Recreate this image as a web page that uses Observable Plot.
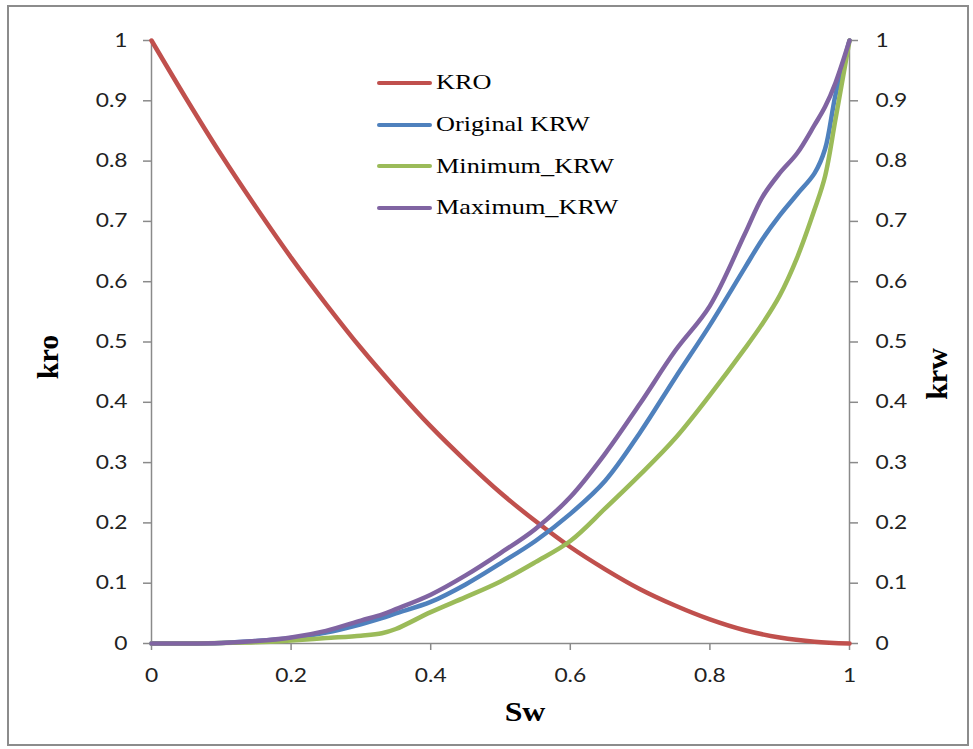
<!DOCTYPE html>
<html>
<head>
<meta charset="utf-8">
<script src="https://cdn.jsdelivr.net/npm/d3@7"></script>
<script src="https://cdn.jsdelivr.net/npm/@observablehq/plot@0.6"></script>
<style>
  body { margin: 0; background: #fff; }
  #wrap { position: relative; width: 973px; height: 749px; overflow: hidden; background: #fff; }
  #border { position: absolute; left: 7px; top: 5px; width: 962px; height: 741px; border: 2px solid #8c8c8c; box-sizing: border-box; pointer-events: none; }
  #chart { position: absolute; left: 0; top: 0; }
  .atitle { position: absolute; font-family: "Liberation Serif", serif; font-weight: bold; color: #000; line-height: 1; white-space: nowrap; }
  #legend { position: absolute; left: 377px; top: 62px; font-family: "Liberation Serif", serif; font-size: 21px; color: #000; }
  .lrow { display: flex; align-items: center; height: 41.7px; }
  .lsw { width: 55px; height: 4px; border-radius: 2px; margin-right: 4px; }
  .ltxt { display: inline-block; transform: scaleX(1.25); transform-origin: left center; white-space: nowrap; }
</style>
</head>
<body>
<div id="wrap">
  <div id="chart"></div>
  <div id="legend"></div>
  <div class="atitle" id="tkro" style="left:48px; top:357px; font-size:30px; transform: translate(-50%,-50%) rotate(-90deg);">kro</div>
  <div class="atitle" id="tkrw" style="left:937px; top:374px; font-size:30px; transform: translate(-50%,-50%) rotate(-90deg);">krw</div>
  <div class="atitle" id="tsw" style="left:525px; top:712px; font-size:27px; transform: translate(-50%,-50%) scaleX(1.18);">Sw</div>
  <div id="border"></div>
</div>
<script>
// ---- data ----
const seriesNames = ["KRO", "Original KRW", "Minimum_KRW", "Maximum_KRW"];
const seriesColors = ["#C0504D", "#4F81BD", "#9BBB59", "#8064A2"];

const swKro = [0, 0.05, 0.1, 0.15, 0.2, 0.25, 0.3, 0.35, 0.4, 0.45, 0.5, 0.55, 0.6, 0.65, 0.7, 0.75, 0.8, 0.85, 0.9, 0.95, 1];
const kro   = [1, 0.903, 0.81, 0.723, 0.64, 0.563, 0.49, 0.423, 0.36, 0.303, 0.25, 0.203, 0.16, 0.123, 0.09, 0.063, 0.04, 0.022, 0.01, 0.003, 0];

const swKrw = [0, 0.05, 0.1, 0.15, 0.2, 0.25, 0.3, 0.33, 0.35, 0.4, 0.45, 0.5, 0.55, 0.6, 0.65, 0.7, 0.75, 0.8, 0.85, 0.875, 0.9, 0.925, 0.95, 0.965, 0.98, 1];
const krwOriginal = [0, 0, 0.001, 0.004, 0.009, 0.018, 0.032, 0.042, 0.05, 0.069, 0.098, 0.133, 0.17, 0.215, 0.27, 0.35, 0.44, 0.528, 0.623, 0.67, 0.71, 0.745, 0.78, 0.82, 0.91, 1];
const krwMinimum  = [0, 0, 0.001, 0.002, 0.005, 0.009, 0.013, 0.017, 0.024, 0.052, 0.077, 0.103, 0.135, 0.17, 0.224, 0.28, 0.34, 0.412, 0.489, 0.53, 0.577, 0.64, 0.72, 0.775, 0.87, 1];
const krwMaximum  = [0, 0, 0.001, 0.004, 0.01, 0.021, 0.038, 0.048, 0.057, 0.081, 0.113, 0.15, 0.19, 0.243, 0.315, 0.398, 0.485, 0.56, 0.679, 0.74, 0.78, 0.813, 0.86, 0.89, 0.93, 1];

const xTicks = [0, 0.2, 0.4, 0.6, 0.8, 1];
const yTicks = [0, 0.1, 0.2, 0.3, 0.4, 0.5, 0.6, 0.7, 0.8, 0.9, 1];

// ---- build table ----
const rows = [];
swKro.forEach((s, i) => rows.push({sw: s, v: kro[i], series: seriesNames[0]}));
swKrw.forEach((s, i) => rows.push({sw: s, v: krwOriginal[i], series: seriesNames[1]}));
swKrw.forEach((s, i) => rows.push({sw: s, v: krwMinimum[i], series: seriesNames[2]}));
swKrw.forEach((s, i) => rows.push({sw: s, v: krwMaximum[i], series: seriesNames[3]}));

const axisGray = "#8a8a8a";
const textColor = "#222";
const fmt = d => String(d);

const chart = Plot.plot({
  width: 973,
  height: 749,
  marginLeft: 151,
  marginRight: 124,
  marginTop: 40,
  marginBottom: 106,
  x: {domain: [0, 1]},
  y: {domain: [0, 1]},
  color: {domain: seriesNames, range: seriesColors},
  style: {fontFamily: "Lato, sans-serif", fontSize: "19px", color: textColor, background: "transparent"},
  marks: [
    Plot.ruleY([0], {stroke: axisGray, strokeWidth: 1.5}),
    Plot.ruleX([0], {stroke: axisGray, strokeWidth: 1.5}),
    Plot.ruleX([1], {stroke: axisGray, strokeWidth: 1.5}),
    Plot.axisX({ticks: xTicks, tickFormat: fmt, tickSize: 7, tickPadding: 18, stroke: axisGray, strokeWidth: 1.5, fill: textColor, label: null}),
    Plot.axisY({anchor: "left", ticks: yTicks, tickFormat: fmt, tickSize: 8, tickPadding: 16, stroke: axisGray, strokeWidth: 1.5, fill: textColor, label: null}),
    Plot.axisY({anchor: "right", ticks: yTicks, tickFormat: fmt, tickSize: 8, tickPadding: 18, stroke: axisGray, strokeWidth: 1.5, fill: textColor, label: null}),
    Plot.line(rows, {x: "sw", y: "v", z: "series", stroke: "series", strokeWidth: 4.5, curve: "catmull-rom", strokeLinecap: "round", strokeLinejoin: "round"})
  ]
});

// widen tick labels horizontally to match the reference's stretched glyphs
d3.select(chart).selectAll('g[aria-label$="tick label"] text').each(function () {
  const t = this.getAttribute("transform");
  if (t) {
    this.setAttribute("transform", t + " scale(1.2,1)");
  } else {
    const x = this.getAttribute("x") || 0, y = this.getAttribute("y") || 0;
    this.removeAttribute("x"); this.removeAttribute("y");
    this.setAttribute("transform", `translate(${x},${y}) scale(1.2,1)`);
  }
});

document.getElementById("chart").appendChild(chart);

// legend
const legend = d3.select("#legend");
seriesNames.forEach((name, i) => {
  const row = legend.append("div").attr("class", "lrow");
  row.append("div").attr("class", "lsw").style("background", seriesColors[i]);
  row.append("span").attr("class", "ltxt").text(name);
});
</script>
</body>
</html>
